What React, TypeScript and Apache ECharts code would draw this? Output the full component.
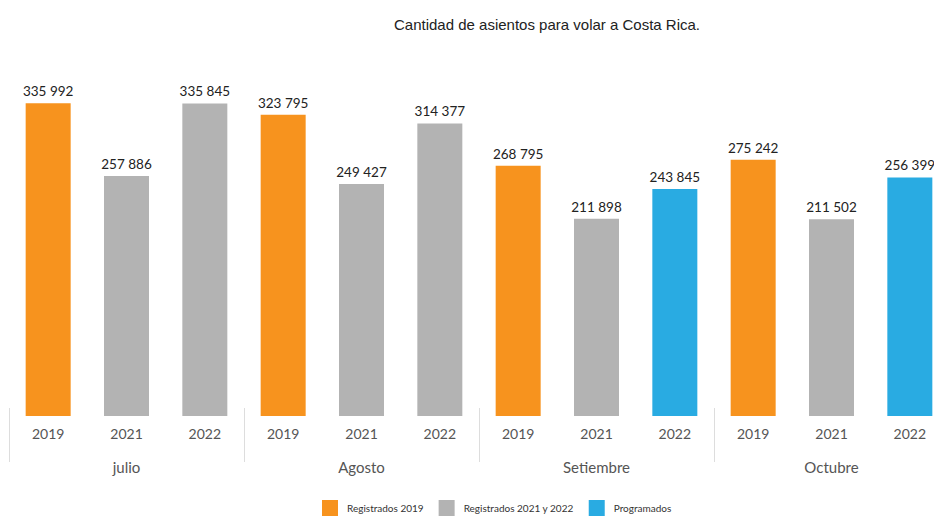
import React, { useEffect, useRef } from "react";
import * as echarts from "echarts";

const title = "Cantidad de asientos para volar a Costa Rica.";
const months = ["julio", "Agosto", "Setiembre", "Octubre"];
const years = ["2019", "2021", "2022", "2019", "2021", "2022", "2019", "2021", "2022", "2019", "2021", "2022"];
const registrados2019 = [335992, null, null, 323795, null, null, 268795, null, null, 275242, null, null];
const registrados2122 = [null, 257886, 335845, null, 249427, 314377, null, 211898, null, null, 211502, null];
const programados = [null, null, null, null, null, null, null, null, 243845, null, null, 256399];
const seriesNames = ["Registrados 2019", "Registrados 2021 y 2022", "Programados"];
const colors = ["#F7931E", "#B3B3B3", "#29ABE2"];

const fmt = (v: number) => String(v).replace(/\B(?=(\d{3})+(?!\d))/g, " ");

export default function App() {
  const ref = useRef<HTMLDivElement>(null);
  useEffect(() => {
    if (!ref.current) return;
    document.body.style.margin = "0";
    const chart = echarts.init(ref.current, null, { renderer: "svg" });
    const font = "Lato, 'Open Sans', sans-serif";
    const mk = (name: string, data: (number | null)[], color: string) => ({
      name,
      type: "bar",
      stack: "all",
      data,
      barWidth: 45,
      itemStyle: { color },
      label: {
        show: true,
        position: "top",
        distance: 5,
        color: "#222",
        fontSize: 13.5,
        fontFamily: font,
        formatter: (p: any) => fmt(p.value),
      },
    });
    chart.setOption({
      animation: false,
      title: {
        text: title,
        left: 542,
        textAlign: "center",
        top: 12,
        textStyle: { fontFamily: "'Liberation Sans', Arial, sans-serif", fontSize: 15, fontWeight: "normal", color: "#222" },
      },
      legend: {
        left: 322,
        top: 500,
        padding: 0,
        itemWidth: 16,
        itemHeight: 16,
        itemGap: 15,
        icon: "rect",
        data: seriesNames,
        textStyle: { fontFamily: font, fontSize: 10, color: "#333", padding: [0, 0, 0, 4] },
      },
      grid: { left: 9, width: 940, top: 81, bottom: 100, outerBoundsMode: "none", containLabel: false },
      xAxis: [
        {
          type: "category",
          data: years,
          axisLine: { show: false },
          axisTick: { show: false },
          axisLabel: { color: "#555", fontSize: 14, fontFamily: font, margin: 10 },
        },
        {
          type: "category",
          data: months,
          position: "bottom",
          offset: 46,
          axisLine: { show: false },
          axisTick: { show: true, inside: true, length: 54, lineStyle: { color: "#DDDDDD", width: 1 } },
          axisLabel: { color: "#555", fontSize: 15, fontFamily: font, margin: -3 },
        },
      ],
      yAxis: { type: "value", min: 0, max: 360000, show: false, splitLine: { show: false } },
      series: [
        mk(seriesNames[0], registrados2019, colors[0]),
        mk(seriesNames[1], registrados2122, colors[1]),
        mk(seriesNames[2], programados, colors[2]),
      ],
    });
    return () => chart.dispose();
  }, []);
  return <div ref={ref} style={{ width: 934, height: 516 }} />;
}
